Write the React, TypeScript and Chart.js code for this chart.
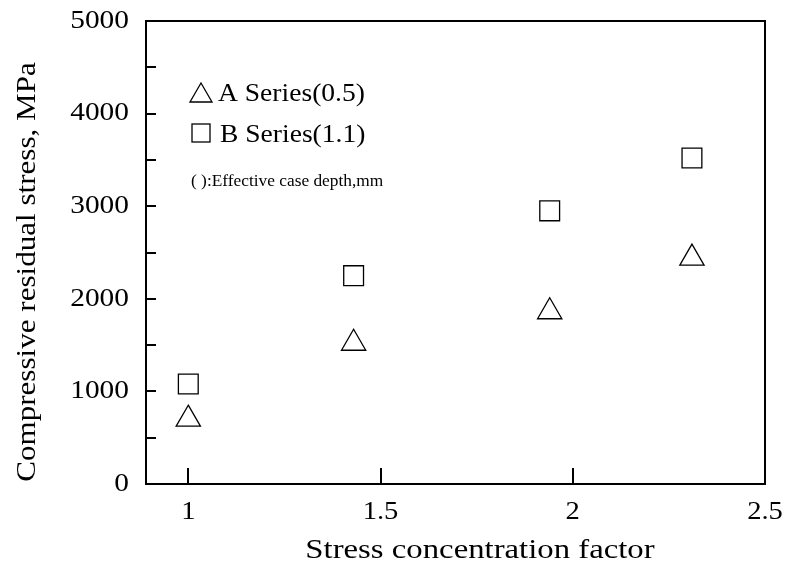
import React, { useEffect, useRef } from 'react';
import { Chart, registerables } from 'chart.js';

Chart.register(...registerables);

const stressConcentration = [1.0, 1.43, 1.94, 2.31];
const seriesA = [700, 1520, 1860, 2440];
const seriesB = [1080, 2250, 2950, 3520];
const xTickValues = [1, 1.5, 2, 2.5];
const xTickLabels = ['1', '1.5', '2', '2.5'];
const yTickValues = [0, 1000, 2000, 3000, 4000, 5000];
const yTickLabels = ['0', '1000', '2000', '3000', '4000', '5000'];
const yMax = 5000;
const yStep = 500;
const legendLabels = ['A Series(0.5)', 'B Series(1.1)'];
const legendNote = '( ):Effective case depth,mm';
const xTitle = 'Stress concentration factor';
const yTitle = 'Compressive residual stress, MPa';

const FONT = "'Liberation Serif', 'Times New Roman', serif";

function stretchedText(ctx: any, text: string, x: number, y: number, sx: number, align: string, rot = 0) {
  ctx.save();
  ctx.translate(x, y);
  if (rot) ctx.rotate(rot);
  ctx.scale(sx, 1);
  ctx.textAlign = align;
  ctx.fillText(text, 0, 0);
  ctx.restore();
}

const framePlugin = {
  id: 'frame',
  afterDraw(chart: any) {
    const { ctx, chartArea: a, scales } = chart;
    const xs = scales.x;
    const ys = scales.y;
    ctx.save();
    ctx.strokeStyle = '#000';
    ctx.lineWidth = 2;
    ctx.strokeRect(a.left, a.top, a.right - a.left, a.bottom - a.top);
    ctx.beginPath();
    ys.ticks.forEach((t: any) => {
      if (t.value <= ys.min || t.value >= ys.max) return;
      const py = Math.round(ys.getPixelForValue(t.value));
      ctx.moveTo(a.left, py);
      ctx.lineTo(a.left + 10, py);
    });
    xs.ticks.forEach((t: any) => {
      if (t.value <= xs.min || t.value >= xs.max) return;
      const px = Math.round(xs.getPixelForValue(t.value));
      ctx.moveTo(px, a.bottom);
      ctx.lineTo(px, a.bottom - 16);
    });
    ctx.stroke();

    ctx.fillStyle = '#000';
    // tick labels
    ctx.font = `26px ${FONT}`;
    ctx.textBaseline = 'middle';
    yTickValues.forEach((v, i) => {
      stretchedText(ctx, yTickLabels[i], a.left - 17, ys.getPixelForValue(v), 1.13, 'right');
    });
    xTickValues.forEach((v, i) => {
      stretchedText(ctx, xTickLabels[i], xs.getPixelForValue(v), a.bottom + 28, 1.1, 'center');
    });
    // axis titles
    ctx.font = `28px ${FONT}`;
    stretchedText(ctx, xTitle, 480, 551, 1.17, 'center');
    stretchedText(ctx, yTitle, 28, 272, 1.11, 'center', -Math.PI / 2);

    // legend (in-plot text box)
    const lx = a.left + 55;
    ctx.lineWidth = 1.3;
    ctx.textBaseline = 'alphabetic';
    const ty = a.top + 74;
    ctx.beginPath();
    ctx.moveTo(lx, ty - 12);
    ctx.lineTo(lx + 11, ty + 7);
    ctx.lineTo(lx - 11, ty + 7);
    ctx.closePath();
    ctx.stroke();
    const sy = a.top + 112;
    ctx.strokeRect(lx - 9, sy - 9, 18, 18);
    ctx.font = `26px ${FONT}`;
    stretchedText(ctx, legendLabels[0], lx + 17, a.top + 80, 1.06, 'left');
    stretchedText(ctx, legendLabels[1], lx + 19, a.top + 121, 1.06, 'left');
    ctx.font = `17px ${FONT}`;
    stretchedText(ctx, legendNote, lx - 10, a.top + 165, 1.02, 'left');
    ctx.restore();
  },
};

export default function App() {
  const ref = useRef<HTMLCanvasElement>(null);
  useEffect(() => {
    document.body.style.margin = '0';
    const canvas = ref.current;
    if (!canvas) return;
    const chart = new Chart(canvas, {
      type: 'scatter',
      data: {
        datasets: [
          {
            label: legendLabels[0],
            data: stressConcentration.map((x, i) => ({ x, y: seriesA[i] })),
            pointStyle: 'triangle',
            pointRadius: 14,
            pointBorderColor: '#000',
            pointBackgroundColor: 'rgba(0,0,0,0)',
            pointBorderWidth: 1.3,
          },
          {
            label: legendLabels[1],
            data: stressConcentration.map((x, i) => ({ x, y: seriesB[i] })),
            pointStyle: 'rect',
            pointRadius: 14,
            pointBorderColor: '#000',
            pointBackgroundColor: 'rgba(0,0,0,0)',
            pointBorderWidth: 1.3,
          },
        ],
      },
      options: {
        animation: false,
        responsive: false,
        maintainAspectRatio: false,
        layout: { padding: { top: 21, right: 22, left: 0, bottom: 0 } },
        plugins: { legend: { display: false }, tooltip: { enabled: false } },
        scales: {
          x: {
            type: 'linear',
            min: 0.89,
            max: 2.5,
            afterBuildTicks: (s: any) => {
              s.ticks = xTickValues.map((v) => ({ value: v }));
            },
            afterFit: (s: any) => {
              s.height = 86;
            },
            grid: { display: false, drawTicks: false },
            border: { display: false },
            ticks: { display: false },
          },
          y: {
            type: 'linear',
            min: 0,
            max: yMax,
            afterFit: (s: any) => {
              s.width = 146;
            },
            grid: { display: false, drawTicks: false },
            border: { display: false },
            ticks: { display: false, stepSize: yStep },
          },
        },
      },
      plugins: [framePlugin],
    } as any);
    return () => chart.destroy();
  }, []);
  return (
    <div style={{ position: 'absolute', left: 0, top: 0, width: 787, height: 570 }}>
      <canvas ref={ref} width={787} height={570} style={{ display: 'block' }} />
    </div>
  );
}
